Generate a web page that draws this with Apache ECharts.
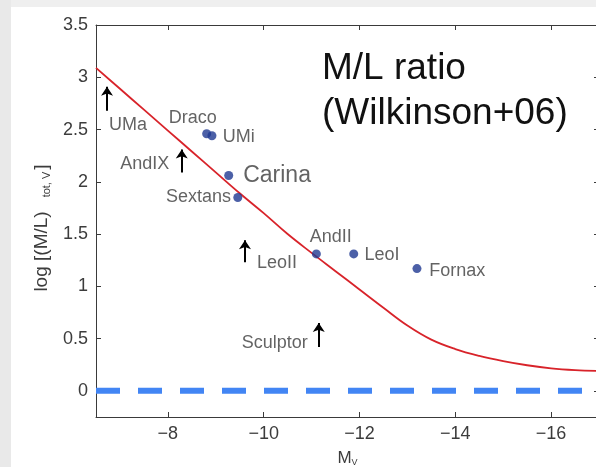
<!DOCTYPE html>
<html>
<head>
<meta charset="utf-8">
<script src="https://cdn.jsdelivr.net/npm/echarts@6/dist/echarts.min.js"></script>
<style>
html,body{margin:0;padding:0;background:#fff;}
#c{width:596px;height:467px;}
</style>
</head>
<body>
<div id="c"></div>
<script>
// ---- data ----
const curveX = [-6.5, -7, -7.5, -8, -8.5, -9, -9.5, -10, -10.5, -11, -11.5, -12, -12.5, -13, -13.5, -14, -14.5, -15, -15.5, -16, -16.5, -17];
const curveY = [3.09, 2.89, 2.69, 2.49, 2.29, 2.09, 1.89, 1.70, 1.50, 1.32, 1.145, 0.97, 0.795, 0.625, 0.49, 0.40, 0.335, 0.285, 0.245, 0.215, 0.198, 0.19];

const dotNames = ['Draco', 'Draco', 'Carina', 'Sextans', 'AndII', 'LeoI', 'Fornax'];
const dotX = [-8.81, -8.92, -9.27, -9.46, -11.10, -11.88, -13.20];
const dotY = [2.46, 2.44, 2.06, 1.85, 1.31, 1.31, 1.17];

const arrowNames = ['UMa', 'AndIX', 'LeoII', 'Sculptor'];
const arrowX = [-6.73, -8.29, -9.61, -11.15];
const arrowFrom = [2.68, 2.09, 1.23, 0.42];
const arrowTo = [2.91, 2.31, 1.44, 0.65];

const labelNames = ['UMa', 'Draco', 'UMi', 'AndIX', 'Carina', 'Sextans', 'AndII', 'LeoI', 'Fornax', 'LeoII', 'Sculptor'];
const labelX = [-7.17, -8.52, -9.48, -7.52, -10.28, -8.64, -11.40, -12.47, -14.04, -10.28, -10.23];
const labelY = [2.54, 2.61, 2.43, 2.17, 2.06, 1.85, 1.47, 1.30, 1.15, 1.22, 0.46];

const refLineX = [-6.5, -17];
const refLineY = [0, 0];

const xTicks = [-16, -14, -12, -10, -8];
const yTicks = [0, 0.5, 1, 1.5, 2, 2.5, 3, 3.5];

const annotation = 'M/L ratio\n(Wilkinson+06)';

// ---- chart ----
const FONT = '"Liberation Sans", Arial, sans-serif';
const chart = echarts.init(document.getElementById('c'), null, {renderer: 'canvas'});
const minus = v => String(v).replace('-', '\u2212');

const axisLineStyle = {color: '#3a3a3a', width: 1};

const option = {
  backgroundColor: '#ffffff',
  animation: false,
  grid: {left: 96, top: 25, right: -3, bottom: 50, containLabel: false, outerBoundsMode: 'none'},
  graphic: [
    {type: 'rect', left: 0, top: 0, shape: {width: 596, height: 7}, style: {fill: '#efefef'}, z: -1},
    {type: 'rect', left: 0, top: 0, shape: {width: 11, height: 467}, style: {fill: '#e9e9e9'}, z: -1},
    {type: 'text', left: 322, top: 46, z: 10,
      style: {text: annotation, font: '37px ' + FONT, fill: '#111', lineHeight: 45}}
  ],
  xAxis: [
    {
      type: 'value', inverse: true, min: -17, max: -6.5, position: 'bottom',
      axisLine: {show: true, onZero: false, lineStyle: axisLineStyle},
      axisTick: {show: true, inside: true, length: 5, customValues: xTicks, lineStyle: axisLineStyle},
      axisLabel: {show: true, customValues: xTicks, formatter: minus, margin: 8,
        fontSize: 18, fontFamily: FONT, color: '#3c3c3c'},
      splitLine: {show: false},
      name: '{m|M}{s|V}', nameLocation: 'middle', nameGap: 33,
      nameTextStyle: {rich: {m: {fontSize: 17, fontFamily: FONT, color: '#3c3c3c'},
                              s: {fontSize: 9, fontFamily: FONT, color: '#3c3c3c', verticalAlign: 'bottom', padding: [8, 0, 0, 0]}}}
    },
    {
      type: 'value', inverse: true, min: -17, max: -6.5, position: 'top',
      axisLine: {show: true, onZero: false, lineStyle: axisLineStyle},
      axisTick: {show: true, inside: true, length: 5, customValues: xTicks, lineStyle: axisLineStyle},
      axisLabel: {show: false}, splitLine: {show: false}
    }
  ],
  yAxis: [
    {
      type: 'value', min: -0.25, max: 3.5, position: 'left',
      axisLine: {show: true, onZero: false, lineStyle: axisLineStyle},
      axisTick: {show: true, inside: true, length: 5, customValues: yTicks, lineStyle: axisLineStyle},
      axisLabel: {show: true, customValues: yTicks, margin: 8, fontSize: 18, fontFamily: FONT, color: '#3c3c3c'},
      splitLine: {show: false},
      name: '{a|log [(M/L)}{s|tot, V}{b|]}', nameLocation: 'middle', nameGap: 43, nameRotate: 90,
      nameTextStyle: {rich: {a: {fontSize: 19, fontFamily: FONT, color: '#3c3c3c'},
                              b: {fontSize: 19, fontFamily: FONT, color: '#3c3c3c', padding: [0, 14, 0, 0]},
                              s: {fontSize: 11, fontFamily: FONT, color: '#3c3c3c', padding: [9, 2, 0, 14]}}}
    },
    {
      type: 'value', min: -0.25, max: 3.5, position: 'right',
      axisLine: {show: true, onZero: false, lineStyle: axisLineStyle},
      axisTick: {show: true, inside: true, length: 5, customValues: yTicks, lineStyle: axisLineStyle},
      axisLabel: {show: false}, splitLine: {show: false}
    }
  ],
  series: [
    {
      type: 'line', name: 'zero', data: refLineX.map((x, i) => [x, refLineY[i]]),
      symbol: 'none', silent: true,
      lineStyle: {color: '#4285f4', width: 6, type: [24, 18], cap: 'butt'}, z: 2
    },
    {
      type: 'line', name: 'model', data: curveX.map((x, i) => [x, curveY[i]]),
      symbol: 'none', smooth: 0.4, silent: true,
      lineStyle: {color: '#d8232a', width: 1.8}, z: 3
    },
    {
      type: 'scatter', name: 'dwarfs', data: dotX.map((x, i) => ({value: [x, dotY[i]], name: dotNames[i]})),
      symbol: 'circle', symbolSize: 9, itemStyle: {color: '#1f3891'}, z: 5
    },
    {
      type: 'lines', coordinateSystem: 'cartesian2d', name: 'limits',
      data: arrowX.map((x, i) => ({name: arrowNames[i], coords: [[x, arrowFrom[i]], [x, arrowTo[i]]]})),
      symbol: ['none', 'arrow'], symbolSize: [0, 9],
      lineStyle: {color: '#000', width: 2, opacity: 1}, z: 6
    },
    {
      type: 'scatter', name: 'labels',
      data: labelX.map((x, i) => ({
        value: [x, labelY[i]], name: labelNames[i],
        label: labelNames[i] === 'Carina' ? {fontSize: 23} : undefined
      })),
      symbol: 'circle', symbolSize: 1, itemStyle: {color: 'rgba(0,0,0,0)'}, silent: true,
      label: {show: true, position: 'inside', formatter: p => p.name, fontSize: 18, fontFamily: FONT, color: '#3c3c3c'},
      z: 7
    }
  ]
};
chart.setOption(option);
</script>
</body>
</html>
